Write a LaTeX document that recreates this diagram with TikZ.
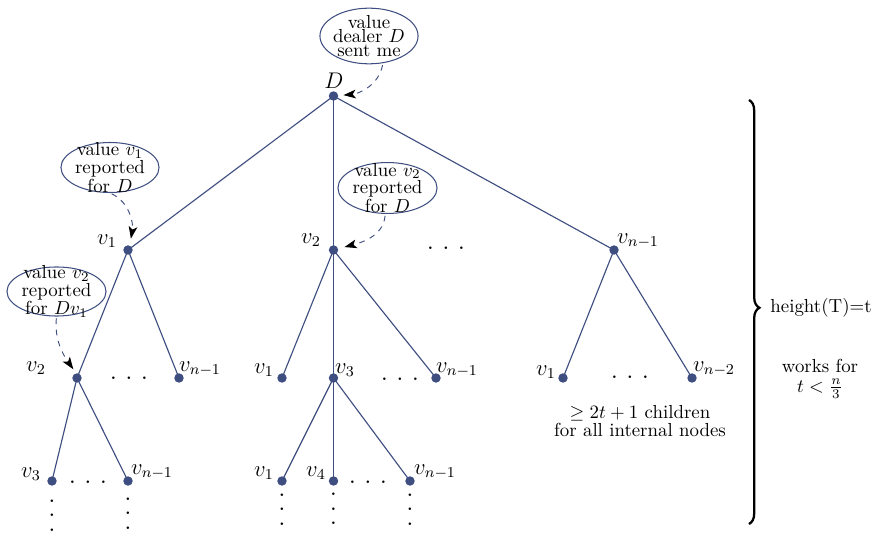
\documentclass[tikz,border=0pt]{standalone}
\usetikzlibrary{shapes.geometric,arrows.meta,decorations.pathreplacing}
\definecolor{tb}{RGB}{62,78,128}
\newcommand\hdotsx{.\kern4.4pt.\kern4.4pt.}
\begin{document}
\begin{tikzpicture}[x=0.53pt,y=-0.53pt,
  vert/.style={circle,fill=tb,inner sep=0pt,minimum size=5pt},
  edge/.style={tb,line width=0.6pt},
  lab/.style={font=\large,inner sep=0pt},
  callout/.style={ellipse,draw=tb,line width=0.55pt,inner sep=0pt},
  ctext/.style={align=center,font=\fontsize{10}{7.6}\selectfont,inner sep=0pt},
  note/.style={tb,dashed,line width=0.5pt,-{Stealth[black,length=6.5pt,width=4.6pt,inset=1.6pt]}},
  hdots/.style={font=\fontsize{14}{14}\selectfont,inner sep=0pt},
  vdotsn/.style={align=center,font=\fontsize{14}{7.6}\selectfont,inner sep=0pt},
]
\useasboundingbox (0,0) rectangle (872,534);
% vertices
\node[vert] (D) at (333.5,96) {};
\node[vert] (a1) at (128,250) {};
\node[vert] (a2) at (333.5,250) {};
\node[vert] (a3) at (614,250) {};
\node[vert] (b1) at (77,378) {};
\node[vert] (b2) at (179,378) {};
\node[vert] (b3) at (282,378) {};
\node[vert] (b4) at (333.5,378) {};
\node[vert] (b5) at (436,378) {};
\node[vert] (b6) at (563,378) {};
\node[vert] (b7) at (692,378) {};
\node[vert] (c1) at (52,481) {};
\node[vert] (c2) at (128,481) {};
\node[vert] (c3) at (282,481) {};
\node[vert] (c4) at (333.5,481) {};
\node[vert] (c5) at (410,481) {};
% edges
\draw[edge] (D.center) -- (a1.center);
\draw[edge] (D.center) -- (a2.center);
\draw[edge] (D.center) -- (a3.center);
\draw[edge] (a1.center) -- (b1.center);
\draw[edge] (a1.center) -- (b2.center);
\draw[edge] (a2.center) -- (b3.center);
\draw[edge] (a2.center) -- (b4.center);
\draw[edge] (a2.center) -- (b5.center);
\draw[edge] (a3.center) -- (b6.center);
\draw[edge] (a3.center) -- (b7.center);
\draw[edge] (b1.center) -- (c1.center);
\draw[edge] (b1.center) -- (c2.center);
\draw[edge] (b4.center) -- (c3.center);
\draw[edge] (b4.center) -- (c4.center);
\draw[edge] (b4.center) -- (c5.center);
% labels
\node[lab] (lD) at (334,81) {$D$};
\node[lab] (la1) at (107,241) {$v_1$};
\node[lab] (la2) at (311,240) {$v_2$};
\node[lab] (la3) at (638,241) {$v_{n-1}$};
\node[lab] (lb1) at (36,368) {$v_2$};
\node[lab] (lb2) at (200,369) {$v_{n-1}$};
\node[lab] (lb3) at (264,370) {$v_1$};
\node[lab] (lb4) at (345,370) {$v_3$};
\node[lab] (lb5) at (457,370) {$v_{n-1}$};
\node[lab] (lb6) at (546,372) {$v_1$};
\node[lab] (lb7) at (714,369) {$v_{n-2}$};
\node[lab] (lc1) at (31,474) {$v_3$};
\node[lab] (lc2) at (152,472) {$v_{n-1}$};
\node[lab] (lc3) at (264,473) {$v_1$};
\node[lab] (lc4) at (316,473) {$v_4$};
\node[lab] (lc5) at (435,472) {$v_{n-1}$};
% horizontal dots
\node[hdots] (d1) at (446,248) {\hdotsx};
\node[hdots] (d2) at (129,378) {\hdotsx};
\node[hdots] (d3) at (400,379) {\hdotsx};
\node[hdots] (d4) at (630,377) {\hdotsx};
\node[hdots] (d5) at (88,482) {\hdotsx};
\node[hdots] (d6) at (368,482) {\hdotsx};
% vertical dots
\node[vdotsn] (v1) at (52,515.5) {.\\.\\.};
\node[vdotsn] (v2) at (128,513.5) {.\\.\\.};
\node[vdotsn] (v3) at (282,509.5) {.\\.\\.};
\node[vdotsn] (v4) at (333.5,509) {.\\.\\.};
\node[vdotsn] (v5) at (410,509.5) {.\\.\\.};
% callouts
\node[callout,minimum width=52pt,minimum height=29.5pt] (e0) at (369,36) {};
\node[ctext] (t0) at (e0.center) {value\\dealer $D$\\sent me};
\node[callout,minimum width=52pt,minimum height=26.5pt] (e1) at (110,167.5) {};
\node[ctext] (t1) at (e1.center) {value $v_1$\\reported\\for $D$};
\node[callout,minimum width=52.5pt,minimum height=27pt] (e2) at (387.5,188) {};
\node[ctext] (t2) at (e2.center) {value $v_2$\\reported\\for $D$};
\node[callout,minimum width=52.5pt,minimum height=26pt] (e3) at (56.5,291.5) {};
\node[ctext] (t3) at (e3.center) {value $v_2$\\reported\\for $Dv_1$};
% callout arrows
\draw[note,shorten <=1pt,shorten >=2.6pt] (e0.-63) to[out=-100,in=5] (D.5);
\draw[note,shorten <=1pt,shorten >=3.5pt] (e1.south) to[out=-25,in=80] (a1.70);
\draw[note,shorten <=1pt,shorten >=3.3pt] (e2.-95) to[out=-95,in=15] (a2.15);
\draw[note,shorten <=1pt,shorten >=2.4pt] (e3.south) to[out=-95,in=125] (b1.102);
% brace and notes
\draw[line width=1.2pt,decorate,decoration={brace,amplitude=5.5pt,aspect=0.49}] (749,100) -- (749,524);
\node (ht) at (821,308) {height(T)=t};
\node[anchor=base] (wf) at (820,372) {works for};
\node[anchor=base] (tn) at (820,392) {$t<\frac{n}{3}$};
\node[align=center,font=\fontsize{10}{9.2}\selectfont] (ch) at (640,421) {$\geq 2t+1$ children\\for all internal nodes};
\end{tikzpicture}
\end{document}
